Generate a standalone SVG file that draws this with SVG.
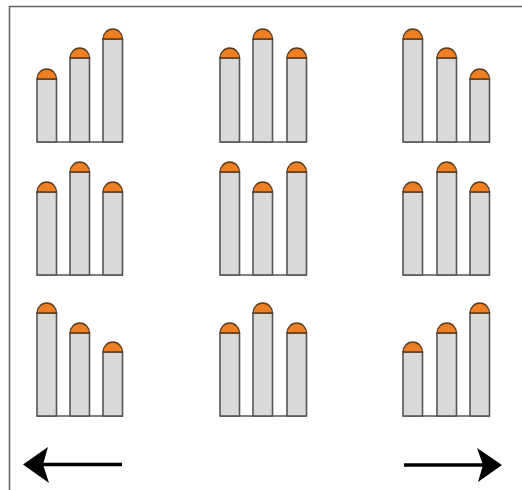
<svg xmlns="http://www.w3.org/2000/svg" width="522" height="490" viewBox="0 0 522 490">
<style>
.bar{fill:#d9d9d9;stroke:#555;stroke-width:1.6}
.cap{fill:#ee7f22;stroke:#5a3b1c;stroke-width:1.3}
.base{stroke:#555;stroke-width:1.6;fill:none}
.frame{stroke:#666;stroke-width:1.6;fill:none}
.shaft{stroke:#000;stroke-width:3.5;fill:none}
.head{fill:#000}
</style>
<rect width="522" height="490" fill="#fff"/>
<path class="frame" d="M9.5,490 V6.5 H522"/>
<g id="g11"><line class="base" x1="37" y1="142" x2="123" y2="142"/>
<rect class="bar" x="37" y="79" width="19.5" height="63"/><path class="cap" d="M37,79 A9.75,10 0 0 1 56.5,79 Z"/>
<rect class="bar" x="70" y="58" width="19.5" height="84"/><path class="cap" d="M70,58 A9.75,10 0 0 1 89.5,58 Z"/>
<rect class="bar" x="103" y="39" width="19.5" height="103"/><path class="cap" d="M103,39 A9.75,10 0 0 1 122.5,39 Z"/></g>
<g id="g12"><line class="base" x1="220" y1="142" x2="306" y2="142"/>
<rect class="bar" x="220" y="58" width="19.5" height="84"/><path class="cap" d="M220,58 A9.75,10 0 0 1 239.5,58 Z"/>
<rect class="bar" x="253" y="39" width="19.5" height="103"/><path class="cap" d="M253,39 A9.75,10 0 0 1 272.5,39 Z"/>
<rect class="bar" x="287" y="58" width="19.5" height="84"/><path class="cap" d="M287,58 A9.75,10 0 0 1 306.5,58 Z"/></g>
<g id="g13"><line class="base" x1="403" y1="142" x2="490" y2="142"/>
<rect class="bar" x="403" y="39" width="19.5" height="103"/><path class="cap" d="M403,39 A9.75,10 0 0 1 422.5,39 Z"/>
<rect class="bar" x="437" y="58" width="19.5" height="84"/><path class="cap" d="M437,58 A9.75,10 0 0 1 456.5,58 Z"/>
<rect class="bar" x="470" y="79" width="19.5" height="63"/><path class="cap" d="M470,79 A9.75,10 0 0 1 489.5,79 Z"/></g>
<g id="g21"><line class="base" x1="37" y1="275" x2="123" y2="275"/>
<rect class="bar" x="37" y="192" width="19.5" height="83"/><path class="cap" d="M37,192 A9.75,10 0 0 1 56.5,192 Z"/>
<rect class="bar" x="70" y="172" width="19.5" height="103"/><path class="cap" d="M70,172 A9.75,10 0 0 1 89.5,172 Z"/>
<rect class="bar" x="103" y="192" width="19.5" height="83"/><path class="cap" d="M103,192 A9.75,10 0 0 1 122.5,192 Z"/></g>
<g id="g22"><line class="base" x1="220" y1="275" x2="306" y2="275"/>
<rect class="bar" x="220" y="172" width="19.5" height="103"/><path class="cap" d="M220,172 A9.75,10 0 0 1 239.5,172 Z"/>
<rect class="bar" x="253" y="192" width="19.5" height="83"/><path class="cap" d="M253,192 A9.75,10 0 0 1 272.5,192 Z"/>
<rect class="bar" x="287" y="172" width="19.5" height="103"/><path class="cap" d="M287,172 A9.75,10 0 0 1 306.5,172 Z"/></g>
<g id="g23"><line class="base" x1="403" y1="275" x2="490" y2="275"/>
<rect class="bar" x="403" y="192" width="19.5" height="83"/><path class="cap" d="M403,192 A9.75,10 0 0 1 422.5,192 Z"/>
<rect class="bar" x="437" y="172" width="19.5" height="103"/><path class="cap" d="M437,172 A9.75,10 0 0 1 456.5,172 Z"/>
<rect class="bar" x="470" y="192" width="19.5" height="83"/><path class="cap" d="M470,192 A9.75,10 0 0 1 489.5,192 Z"/></g>
<g id="g31"><line class="base" x1="37" y1="416" x2="123" y2="416"/>
<rect class="bar" x="37" y="313" width="19.5" height="103"/><path class="cap" d="M37,313 A9.75,10 0 0 1 56.5,313 Z"/>
<rect class="bar" x="70" y="333" width="19.5" height="83"/><path class="cap" d="M70,333 A9.75,10 0 0 1 89.5,333 Z"/>
<rect class="bar" x="103" y="352" width="19.5" height="64"/><path class="cap" d="M103,352 A9.75,10 0 0 1 122.5,352 Z"/></g>
<g id="g32"><line class="base" x1="220" y1="416" x2="306" y2="416"/>
<rect class="bar" x="220" y="333" width="19.5" height="83"/><path class="cap" d="M220,333 A9.75,10 0 0 1 239.5,333 Z"/>
<rect class="bar" x="253" y="313" width="19.5" height="103"/><path class="cap" d="M253,313 A9.75,10 0 0 1 272.5,313 Z"/>
<rect class="bar" x="287" y="333" width="19.5" height="83"/><path class="cap" d="M287,333 A9.75,10 0 0 1 306.5,333 Z"/></g>
<g id="g33"><line class="base" x1="403" y1="416" x2="490" y2="416"/>
<rect class="bar" x="403" y="352" width="19.5" height="64"/><path class="cap" d="M403,352 A9.75,10 0 0 1 422.5,352 Z"/>
<rect class="bar" x="437" y="333" width="19.5" height="83"/><path class="cap" d="M437,333 A9.75,10 0 0 1 456.5,333 Z"/>
<rect class="bar" x="470" y="313" width="19.5" height="103"/><path class="cap" d="M470,313 A9.75,10 0 0 1 489.5,313 Z"/></g>
<g id="connectors">
<line class="shaft" x1="42" y1="464.5" x2="122" y2="464.5"/>
<path class="head" d="M23,464.5 L48,447 L43,464.5 L49,483 Z"/>
<line class="shaft" x1="404" y1="465" x2="484" y2="465"/>
<path class="head" d="M502,465 L477,448 L483,465 L478,482 Z"/>
</g>
</svg>
